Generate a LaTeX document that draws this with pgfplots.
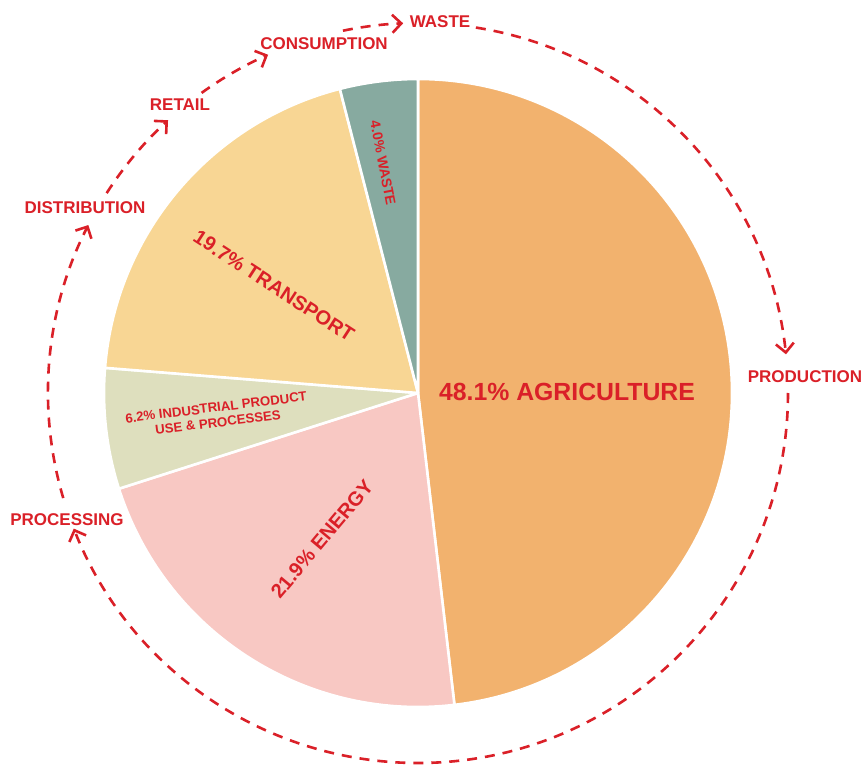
\documentclass[border=0pt]{standalone}
\usepackage{pgfplots}
\pgfplotsset{compat=1.18}
\usepackage{pgfplotstable}
\usetikzlibrary{arrows.meta}
\usepackage{fontspec}
\setmainfont{Liberation Sans}

\definecolor{ink}{RGB}{218,32,40}
\definecolor{cAgri}{RGB}{242,178,110}
\definecolor{cEnergy}{RGB}{248,200,195}
\definecolor{cIndus}{RGB}{222,223,190}
\definecolor{cTrans}{RGB}{248,214,148}
\definecolor{cWaste}{RGB}{135,170,160}

% share of emissions by stage, clockwise from the top
\pgfplotstableread[col sep=comma]{
sector,share,colour
Agriculture,48.1,cAgri
Energy,21.9,cEnergy
Industrial,6.2,cIndus
Transport,19.7,cTrans
Waste,4.0,cWaste
}\shares

% total of the shares
\def\runsum{0}
\pgfplotsforeachungrouped \k in {0,...,4}{%
  \pgfplotstablegetelem{\k}{share}\of\shares
  \pgfmathsetmacro\runsum{\runsum+\pgfplotsretval}%
}
\let\pietotal\runsum
\pgfmathsetmacro\degper{360/\pietotal}

% start / end angle and colour of each wedge
\def\runsum{0}
\pgfplotsforeachungrouped \k in {0,...,4}{%
  \pgfplotstablegetelem{\k}{share}\of\shares
  \pgfmathsetmacro\angA{90-\degper*\runsum}%
  \pgfmathsetmacro\runsum{\runsum+\pgfplotsretval}%
  \pgfmathsetmacro\angB{90-\degper*\runsum}%
  \expandafter\xdef\csname wedgeA\k\endcsname{\angA}%
  \expandafter\xdef\csname wedgeB\k\endcsname{\angB}%
  \pgfplotstablegetelem{\k}{colour}\of\shares
  \colorlet{wedge\k}{\pgfplotsretval}%
}

\tikzset{
  cycle/.style={draw=ink, line width=1.3pt, dash pattern=on 5pt off 4pt,
    -{Straight Barb[length=4.5pt,width=9pt,line width=1.3pt]}},
  stage/.style={text=ink, inner sep=0pt, font=\fontsize{8.5}{10}\selectfont\bfseries},
  slice/.style={text=ink, inner sep=0pt, align=center}
}

\begin{document}
\begin{tikzpicture}
\begin{axis}[
  x=0.5pt, y=0.5pt,
  xmin=0, xmax=863, ymin=0, ymax=767,
  hide axis, clip=false
]
\path (axis cs:0,0) rectangle (axis cs:863,767);

% wedges
\pgfplotsinvokeforeach{0,...,4}{
  \fill[fill=wedge#1, draw=white, line width=1.3pt, line join=round]
    (axis cs:418,374) -- ++(\csname wedgeA#1\endcsname:157pt)
    arc[start angle=\csname wedgeA#1\endcsname,
        end angle=\csname wedgeB#1\endcsname, radius=157pt] -- cycle;
}

% wedge labels
\node[slice, font=\fontsize{12.4}{14}\selectfont\bfseries] at (axis cs:567,375) {48.1\% AGRICULTURE};
\node[slice, rotate=50, font=\fontsize{10}{12}\selectfont\bfseries] at (axis cs:322,228) {21.9\% ENERGY};
\node[slice, rotate=-33, font=\fontsize{10}{12}\selectfont\bfseries] at (axis cs:274,481) {19.7\% TRANSPORT};
\node[slice, rotate=-79, font=\fontsize{7}{8}\selectfont\bfseries] at (axis cs:383,604) {4.0\% WASTE};
\node[slice, rotate=7, font=\fontsize{6.6}{7.6}\selectfont\bfseries] at (axis cs:217,352) {6.2\% INDUSTRIAL PRODUCT\\USE \& PROCESSES};

% supply chain cycle
\draw[cycle] (axis cs:418,374) ++(81:185pt) arc[start angle=81, end angle=6, radius=185pt];
\draw[cycle] (axis cs:418,374) ++(0:185pt) arc[start angle=0, end angle=-158.5, radius=185pt];
\draw[cycle] (axis cs:418,374) ++(-163.5:185pt) arc[start angle=-163.5, end angle=-207, radius=185pt];
\draw[cycle] (axis cs:418,374) ++(-212.7:185pt) arc[start angle=-212.7, end angle=-227.5, radius=185pt];
\draw[cycle] (axis cs:418,374) ++(-234.2:185pt) arc[start angle=-234.2, end angle=-246.1, radius=185pt];
\draw[cycle] (axis cs:418,374) ++(-258.3:185pt) arc[start angle=-258.3, end angle=-267.7, radius=185pt];

\node[stage] at (axis cs:805,390) {PRODUCTION};
\node[stage] at (axis cs:67,247) {PROCESSING};
\node[stage] at (axis cs:85,559) {DISTRIBUTION};
\node[stage] at (axis cs:180,662) {RETAIL};
\node[stage] at (axis cs:324,723) {CONSUMPTION};
\node[stage] at (axis cs:440,745) {WASTE};
\end{axis}
\end{tikzpicture}
\end{document}
